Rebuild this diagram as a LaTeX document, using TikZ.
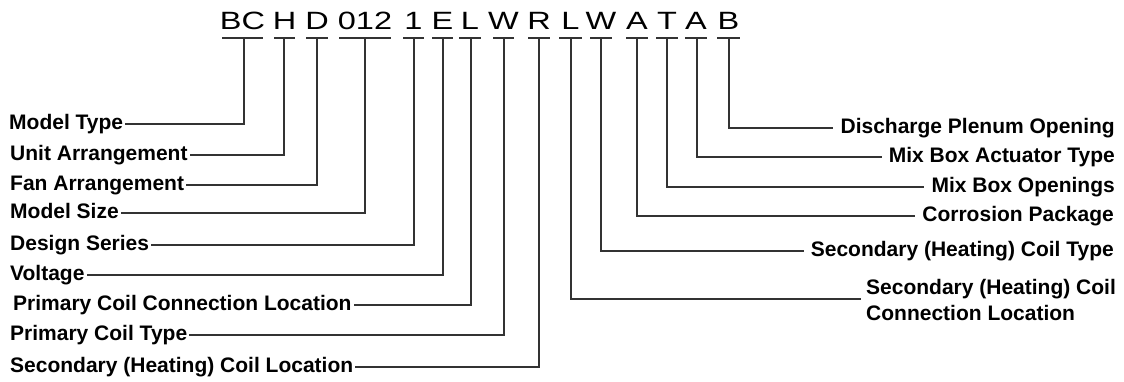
\documentclass[tikz,border=0pt]{standalone}
\usepackage{fontspec}
\setmainfont{Liberation Sans}
\newfontfamily\codefont[FakeStretch=1.3]{Liberation Sans}
\tikzset{
  code/.style={font=\codefont\fontsize{25}{28}\selectfont, inner sep=0pt, anchor=base},
  lbl/.style={font=\bfseries\fontsize{21}{24}\selectfont, inner sep=0pt},
  wire/.style={line width=1.3pt, draw=black!80},
}
\begin{document}
\begin{tikzpicture}[x=1pt,y=-1pt]
\useasboundingbox (0,0) rectangle (1124,381);
% code letters, underlines and drop points
\foreach \n/\t/\a/\b/\v in {1/BC/222/263/244, 2/H/274/295/284, 3/D/306/328/317,
  4/012/339/391/365, 5/1/403/424/414, 6/E/432/453/443, 7/L/459/481/471,
  8/W/493/514/504, 9/R/528/550/539, 10/L/559/582/571, 11/W/590/612/601,
  12/A/626/648/637, 13/T/656/678/667, 14/A/685/707/697, 15/B/717/740/729}{
  \node[code] (c\n) at ({(\a+\b)/2},29) {\t};
  \coordinate (u\n) at (\v,38);
  \draw[wire] (\a,38) -- (\b,38);
}
% left labels
\node[lbl, anchor=base west] (lMT)  at (9,129)  {Model Type};
\node[lbl, anchor=base west] (lUA)  at (10,160) {Unit Arrangement};
\node[lbl, anchor=base west] (lFA)  at (10,190) {Fan Arrangement};
\node[lbl, anchor=base west] (lMS)  at (10,218) {Model Size};
\node[lbl, anchor=base west] (lDS)  at (10,250) {Design Series};
\node[lbl, anchor=base west] (lV)   at (10,280) {Voltage};
\node[lbl, anchor=base west] (lPCCL) at (13,310) {Primary Coil Connection Location};
\node[lbl, anchor=base west] (lPCT) at (10,340) {Primary Coil Type};
\node[lbl, anchor=base west] (lSHCL) at (10,372) {Secondary (Heating) Coil Location};
\draw[wire] (u1) |- ([xshift=2pt,yshift=5pt]lMT.base east);
\draw[wire] (u2) |- ([xshift=2pt,yshift=5pt]lUA.base east);
\draw[wire] (u3) |- ([xshift=2pt,yshift=5pt]lFA.base east);
\draw[wire] (u4) |- ([xshift=2pt,yshift=5pt]lMS.base east);
\draw[wire] (u5) |- ([xshift=2pt,yshift=5pt]lDS.base east);
\draw[wire] (u6) |- ([xshift=2pt,yshift=5pt]lV.base east);
\draw[wire] (u7) |- ([xshift=2pt,yshift=5pt]lPCCL.base east);
\draw[wire] (u8) |- ([xshift=2pt,yshift=5pt]lPCT.base east);
\draw[wire] (u9) |- ([xshift=2pt,yshift=5pt]lSHCL.base east);
% right labels
\node[lbl, anchor=base east] (rDPO)  at (1115,133) {Discharge Plenum Opening};
\node[lbl, anchor=base east] (rMBAT) at (1115,162) {Mix Box Actuator Type};
\node[lbl, anchor=base east] (rMBO)  at (1115,192) {Mix Box Openings};
\node[lbl, anchor=base east] (rCP)   at (1114,221) {Corrosion Package};
\node[lbl, anchor=base east] (rSCT)  at (1114,256) {Secondary (Heating) Coil Type};
\node[lbl, anchor=base west] (rSC1)  at (866,294)  {Secondary (Heating) Coil};
\node[lbl, anchor=base west] (rSC2)  at (866,320)  {Connection Location};
\draw[wire] (u15) |- ([xshift=-7pt,yshift=5pt]rDPO.base west);
\draw[wire] (u14) |- ([xshift=-7pt,yshift=5pt]rMBAT.base west);
\draw[wire] (u13) |- ([xshift=-7pt,yshift=5pt]rMBO.base west);
\draw[wire] (u12) |- ([xshift=-7pt,yshift=5pt]rCP.base west);
\draw[wire] (u11) |- ([xshift=-7pt,yshift=5pt]rSCT.base west);
\draw[wire] (u10) |- ([xshift=-5pt,yshift=-5pt]rSC1.base west);
\end{tikzpicture}
\end{document}
